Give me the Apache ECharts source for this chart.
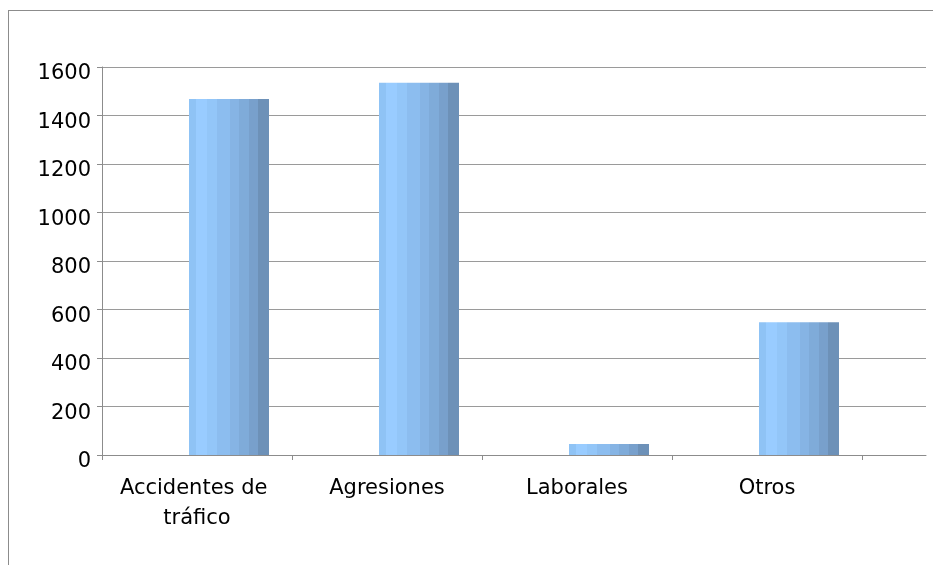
<!DOCTYPE html>
<html>
<head>
<meta charset="utf-8">
<script src="https://cdn.jsdelivr.net/npm/echarts@6/dist/echarts.min.js"></script>
<style>
  html, body { margin: 0; padding: 0; background: #fff; overflow: hidden; width: 933px; height: 565px; }
  #frameTop { position: absolute; left: 8px; top: 10px; width: 940px; height: 0; border-top: 1px solid #8c8c8c; }
  #frameLeft { position: absolute; left: 8px; top: 10px; width: 0; height: 555px; border-left: 1px solid #8c8c8c; }
  #chart { position: absolute; left: 0; top: 0; width: 933px; height: 565px; }
</style>
</head>
<body>
<div id="frameTop"></div>
<div id="frameLeft"></div>
<div id="chart"></div>
<script>
// data
const categories = ['Accidentes de tráfico', 'Agresiones', 'Laborales', 'Otros']
const values = [1468, 1535, 45, 547]
const emptySeries = [null, null, null, null]
const yTicks = { min: 0, max: 1600, interval: 200 }

const chart = echarts.init(document.getElementById('chart'))

// banded blue fill (stepped, like the old office bars)
const bandEdges = [0, 0.09, 0.22, 0.35, 0.51, 0.62, 0.75, 0.86, 1]
const bandColors = ['#8fc3f5', '#99ccff', '#93c6f8', '#8cbdef', '#86b4e4', '#7fabd9', '#78a0cc', '#6d91b8']
const stops = []
bandColors.forEach((c, i) => {
  stops.push({ offset: bandEdges[i], color: c })
  stops.push({ offset: bandEdges[i + 1], color: c })
})
const barFill = new echarts.graphic.LinearGradient(0, 0, 1, 0, stops)

const textStyle = { fontFamily: 'DejaVu Sans', fontSize: 21, color: '#000' }

chart.setOption({
  animation: false,
  grid: [
    // full width grid: gridlines + base line
    { left: 102, right: 7, top: 67, bottom: 110, containLabel: false },
    // categories + bars
    { left: 102, right: 71, top: 67, bottom: 110, containLabel: false },
  ],
  xAxis: [
    {
      gridIndex: 0,
      type: 'value',
      min: 0,
      max: 1,
      axisLine: { show: true, lineStyle: { color: '#8c8c8c', width: 1 } },
      axisTick: { show: false },
      axisLabel: { show: false },
      splitLine: { show: false },
    },
    {
      gridIndex: 1,
      type: 'category',
      data: categories,
      axisLine: { show: false },
      axisTick: { show: true, length: 5, lineStyle: { color: '#8c8c8c' } },
      axisLabel: {
        ...textStyle,
        margin: 19,
        lineHeight: 30,
        width: 170,
        overflow: 'break',
        interval: 0,
      },
      splitLine: { show: false },
    },
  ],
  yAxis: [
    {
      gridIndex: 0,
      type: 'value',
      ...yTicks,
      axisLine: { show: true, lineStyle: { color: '#8c8c8c', width: 1 } },
      axisTick: { show: true, length: 5, lineStyle: { color: '#8c8c8c' } },
      axisLabel: {
        margin: 11,
        formatter: v => '{n|' + v + '}',
        rich: { n: { ...textStyle, padding: [14, 0, 0, 0] } },
      },
      splitLine: { show: true, lineStyle: { color: '#9a9a9a', width: 1 } },
    },
    {
      gridIndex: 1,
      type: 'value',
      ...yTicks,
      show: false,
    },
  ],
  series: [
    {
      name: 'vacía',
      type: 'bar',
      xAxisIndex: 1,
      yAxisIndex: 1,
      data: emptySeries,
      barWidth: 80,
      barGap: '-20%',
    },
    {
      name: 'Total',
      type: 'bar',
      xAxisIndex: 1,
      yAxisIndex: 1,
      data: values,
      barWidth: 80,
      barGap: '-20%',
      itemStyle: { color: barFill },
    },
  ],
})
</script>
</body>
</html>
